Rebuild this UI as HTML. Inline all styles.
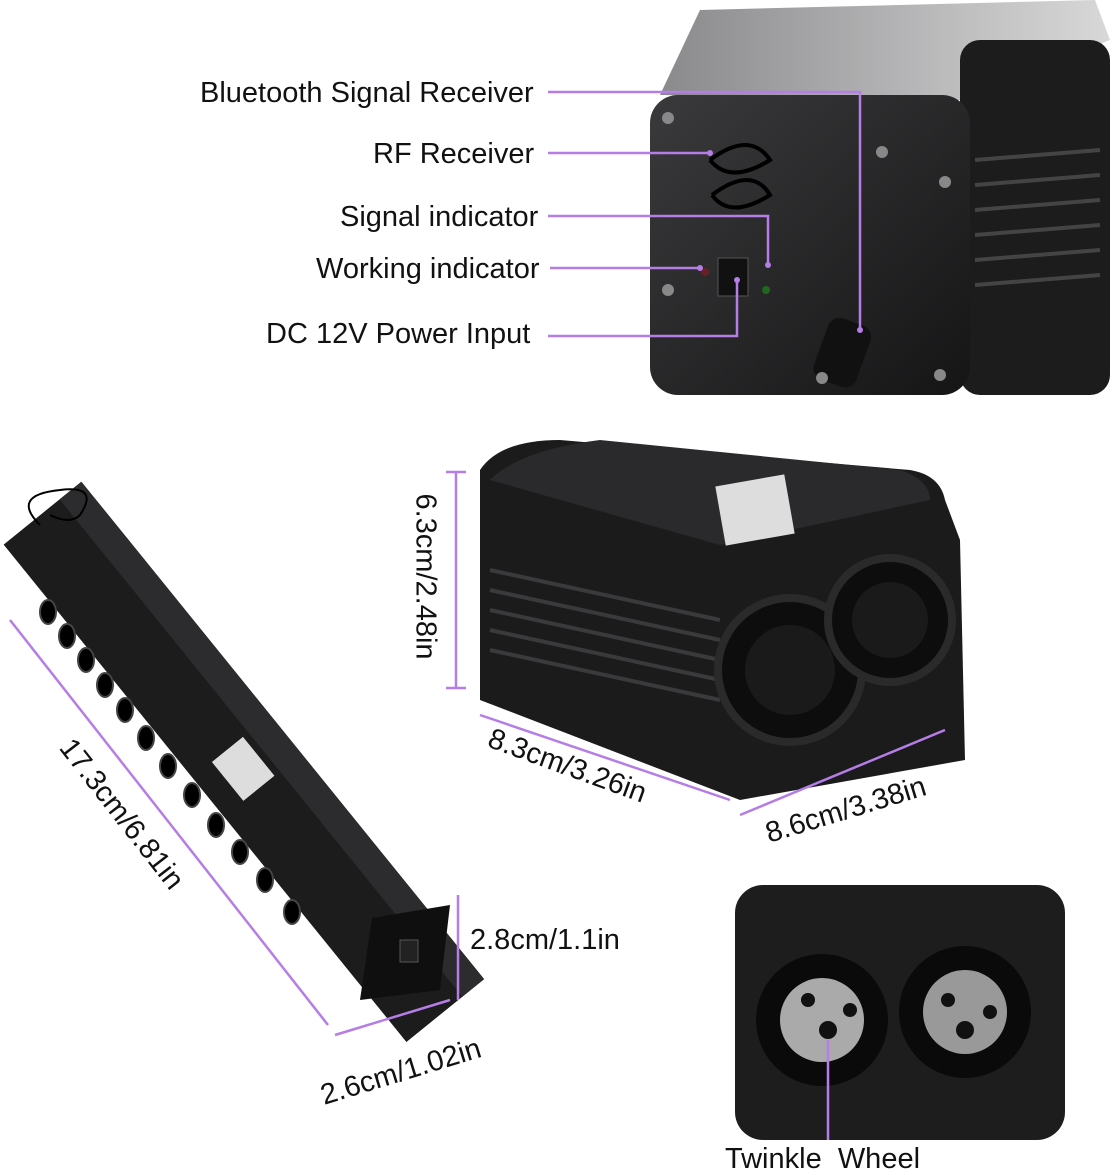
<!DOCTYPE html>
<html><head><style>
body{margin:0;background:#fff;width:1118px;height:1172px;overflow:hidden;position:relative;font-family:"Liberation Sans",sans-serif}
.t{position:absolute;font-size:29px;color:#111;white-space:nowrap;line-height:1}
</style></head><body>
<svg width="1118" height="1172" style="position:absolute;left:0;top:0">
<defs>
<linearGradient id="g1" x1="0" y1="0" x2="1" y2="1"><stop offset="0" stop-color="#3a3a3c"/><stop offset="1" stop-color="#151516"/></linearGradient>
<linearGradient id="g2" x1="0" y1="0" x2="1" y2="0"><stop offset="0" stop-color="#8a8a8c"/><stop offset="1" stop-color="#d8d8d9"/></linearGradient>
</defs>
<path d="M660 95 L700 10 L1095 0 L1110 40 L960 100 Z" fill="url(#g2)"/>
<rect x="960" y="40" width="150" height="355" rx="20" fill="#1c1c1d"/>
<g stroke="#444" stroke-width="4"><line x1="975" y1="160" x2="1100" y2="150"/><line x1="975" y1="185" x2="1100" y2="175"/><line x1="975" y1="210" x2="1100" y2="200"/><line x1="975" y1="235" x2="1100" y2="225"/><line x1="975" y1="260" x2="1100" y2="250"/><line x1="975" y1="285" x2="1100" y2="275"/></g>
<rect x="650" y="95" width="320" height="300" rx="28" fill="url(#g1)"/>
<rect x="820" y="320" width="45" height="65" rx="12" fill="#111" transform="rotate(20 842 352)"/>
<circle cx="668" cy="118" r="6" fill="#888"/><circle cx="945" cy="182" r="6" fill="#888"/><circle cx="668" cy="290" r="6" fill="#888"/><circle cx="940" cy="375" r="6" fill="#888"/><circle cx="822" cy="378" r="6" fill="#888"/><circle cx="882" cy="152" r="6" fill="#888"/>
<rect x="718" y="258" width="30" height="38" fill="#111" stroke="#555"/>
<circle cx="705" cy="272" r="4" fill="#622"/><circle cx="766" cy="290" r="4" fill="#262"/>
<path d="M710 160 q40 -30 60 0 q-40 25 -60 0 M712 195 q40 -30 58 0 q-40 25 -58 0" fill="none" stroke="#000" stroke-width="4"/>
<path d="M480 470 Q500 440 560 440 L910 470 Q940 475 945 500 L960 540 L965 760 L740 800 L480 700 Z" fill="#1b1b1c"/>
<path d="M490 480 Q520 450 600 440 L900 470 Q930 480 930 500 L720 545 Z" fill="#2a2a2c"/>
<rect x="720" y="480" width="70" height="60" fill="#ddd" transform="rotate(-10 755 510)"/>
<g stroke="#3a3a3c" stroke-width="4"><line x1="490" y1="570" x2="720" y2="620"/><line x1="490" y1="590" x2="720" y2="640"/><line x1="490" y1="610" x2="720" y2="660"/><line x1="490" y1="630" x2="720" y2="680"/><line x1="490" y1="650" x2="720" y2="700"/></g>
<circle cx="790" cy="670" r="72" fill="#0d0d0d" stroke="#2a2a2a" stroke-width="8"/><circle cx="790" cy="670" r="45" fill="#1a1a1a"/>
<circle cx="890" cy="620" r="62" fill="#0d0d0d" stroke="#2a2a2a" stroke-width="8"/><circle cx="890" cy="620" r="38" fill="#1a1a1a"/>
<g transform="translate(240,765) rotate(51)">
<rect x="-320" y="-55" width="640" height="100" fill="#1c1c1d"/>
<rect x="-320" y="-55" width="640" height="28" fill="#2c2c2e"/>
<rect x="-20" y="-20" width="50" height="40" fill="#ddd"/>
</g>
<g fill="#000" stroke="#444" stroke-width="2">
<ellipse cx="48" cy="612" rx="8" ry="12"/><ellipse cx="67" cy="636" rx="8" ry="12"/><ellipse cx="86" cy="660" rx="8" ry="12"/><ellipse cx="105" cy="685" rx="8" ry="12"/><ellipse cx="125" cy="710" rx="8" ry="12"/><ellipse cx="146" cy="738" rx="8" ry="12"/><ellipse cx="168" cy="766" rx="8" ry="12"/><ellipse cx="192" cy="795" rx="8" ry="12"/><ellipse cx="216" cy="825" rx="8" ry="12"/><ellipse cx="240" cy="852" rx="8" ry="12"/><ellipse cx="265" cy="880" rx="8" ry="12"/><ellipse cx="292" cy="912" rx="8" ry="12"/></g>
<path d="M360 1000 L440 990 L450 905 L372 918 Z" fill="#0f0f10"/>
<rect x="400" y="940" width="18" height="22" fill="#222" stroke="#555"/>
<path d="M40 525 q-30 -30 20 -35 q40 -5 20 25 q-10 10 -30 0" fill="none" stroke="#000" stroke-width="2"/>
<rect x="735" y="885" width="330" height="255" rx="28" fill="#1d1d1e"/>
<circle cx="822" cy="1020" r="66" fill="#0a0a0a"/><circle cx="822" cy="1020" r="42" fill="#aaa"/>
<circle cx="965" cy="1012" r="66" fill="#0a0a0a"/><circle cx="965" cy="1012" r="42" fill="#999"/>
<g fill="#111"><circle cx="828" cy="1030" r="9"/><circle cx="808" cy="1000" r="7"/><circle cx="850" cy="1010" r="7"/><circle cx="965" cy="1030" r="9"/><circle cx="948" cy="1000" r="7"/><circle cx="990" cy="1012" r="7"/></g>
<g stroke="#b57de6" stroke-width="2.5" fill="none">
<polyline points="548,92 860,92 860,330"/>
<line x1="548" y1="153" x2="710" y2="153"/>
<polyline points="548,216 768,216 768,265"/>
<line x1="550" y1="268" x2="700" y2="268"/>
<polyline points="548,336 737,336 737,280"/>
<line x1="456" y1="472" x2="456" y2="688"/><line x1="446" y1="472" x2="466" y2="472"/><line x1="446" y1="688" x2="466" y2="688"/>
<line x1="480" y1="715" x2="730" y2="800"/>
<line x1="740" y1="815" x2="945" y2="730"/>
<line x1="10" y1="620" x2="328" y2="1025"/>
<line x1="458" y1="895" x2="458" y2="1000"/>
<line x1="335" y1="1035" x2="450" y2="1000"/>
<line x1="828" y1="1040" x2="828" y2="1140"/>
</g>
<g fill="#b57de6"><circle cx="860" cy="330" r="3"/><circle cx="710" cy="153" r="3"/><circle cx="768" cy="265" r="3"/><circle cx="700" cy="268" r="3"/><circle cx="737" cy="280" r="3"/></g>
</svg>
<div class="t" style="left:200px;top:79px">Bluetooth Signal Receiver</div>
<div class="t" style="left:373px;top:140px">RF Receiver</div>
<div class="t" style="left:340px;top:203px">Signal indicator</div>
<div class="t" style="left:316px;top:255px">Working indicator</div>
<div class="t" style="left:266px;top:320px">DC 12V Power Input</div>
<div class="t" style="left:342px;top:562px;transform:rotate(90deg)">6.3cm/2.48in</div>
<div class="t" style="left:484px;top:752px;transform:rotate(20deg)">8.3cm/3.26in</div>
<div class="t" style="left:763px;top:796px;transform:rotate(-17deg)">8.6cm/3.38in</div>
<div class="t" style="left:30px;top:800px;transform:rotate(52deg)">17.3cm/6.81in</div>
<div class="t" style="left:470px;top:926px">2.8cm/1.1in</div>
<div class="t" style="left:318px;top:1058px;transform:rotate(-17deg)">2.6cm/1.02in</div>
<div class="t" style="left:725px;top:1145px">Twinkle&nbsp; Wheel</div>
</body></html>
